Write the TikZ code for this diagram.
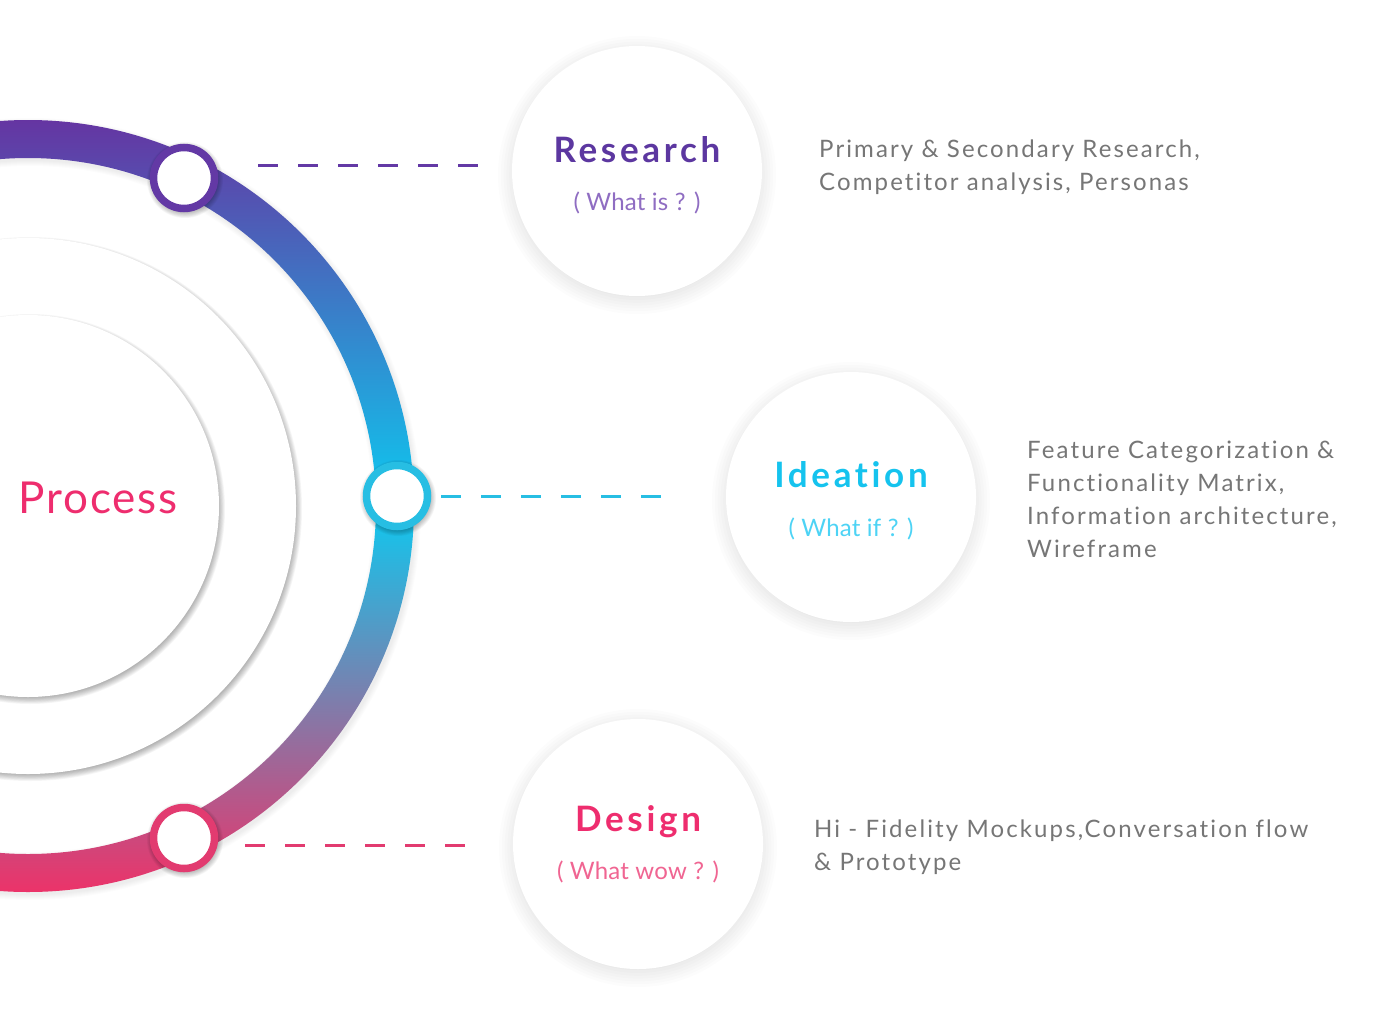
\documentclass[tikz,border=0pt]{standalone}
\usepackage{fontspec}
\setmainfont{Lato}[Ligatures=NoCommon]

\definecolor{ringtop}{HTML}{6535A2}
\definecolor{ringmid}{HTML}{0DC9F0}
\definecolor{ringbot}{HTML}{EC3369}
\definecolor{resdot}{HTML}{6339A5}
\definecolor{ideadot}{HTML}{27BEE3}
\definecolor{desdot}{HTML}{E23B70}
\definecolor{restitle}{HTML}{5C37A0}
\definecolor{ressub}{HTML}{8F6DC2}
\definecolor{ideatitle}{HTML}{15C3EE}
\definecolor{ideasub}{HTML}{4DD3F5}
\definecolor{destitle}{HTML}{EE2D6E}
\definecolor{dessub}{HTML}{F06592}
\definecolor{descgray}{HTML}{767676}

% soft round shadow: centre x, centre y, radius, spread, opacity per layer
\newcommand\softshadow[5]{%
  \foreach \k in {1,...,10}{%
    \fill[black, opacity=#5] (#1,#2) circle[radius={#3-#4+\k*#4/5}];}%
}

\begin{document}
\begin{tikzpicture}[x=1pt,y=-1pt,
  disc/.style={circle, fill=white, inner sep=0pt},
  bigdisc/.style={circle, fill=white, inner sep=0pt, minimum size=250pt},
  dot/.style={circle, fill=white, draw=#1, line width=7.5pt, inner sep=0pt, minimum size=61pt},
  link/.style={draw=#1, line width=3pt, dash pattern=on 20pt off 20pt},
  title/.style={anchor=base, inner sep=0pt, text=#1,
    font=\fontsize{35}{42}\selectfont\bfseries\addfontfeature{LetterSpace=10.5}},
  subtitle/.style={anchor=base, inner sep=0pt, text=#1,
    font=\fontsize{24}{30}\selectfont\addfontfeature{LetterSpace=1}},
  desc/.style={anchor=base west, inner sep=0pt, align=left, text=descgray,
    font=\fontsize{24}{33}\selectfont\addfontfeature{LetterSpace=8.8}}
]
\useasboundingbox (0,0) rectangle (1400,1012);
\fill[white] (0,0) rectangle (1400,1012);
\begin{scope}
\clip (0,0) rectangle (1400,1012);

% concentric discs around the centre
\coordinate (c) at (28,506);
\softshadow{30}{509}{268}{4}{0.035}
\node[disc, minimum size=536pt] (outerdisc) at (c) {};
\softshadow{30}{509}{191}{4}{0.035}
\node[disc, minimum size=382pt] (innerdisc) at (c) {};

% faint shadow under the ring
\foreach \k in {1,...,6}{
  \draw[black, opacity=0.012, line width={(36+2*\k)*1pt}] (30,509) circle[radius=367];}

% gradient ring
\shade[top color=ringtop, bottom color=ringbot, middle color=ringmid, even odd rule]
  (c) circle[radius=386] (c) circle[radius=348];

\node[anchor=base, inner sep=0pt, text=destitle,
  font=\fontsize{44}{50}\selectfont\addfontfeature{LetterSpace=4.5}] (process) at (98,513) {Process};

% stage markers on the ring
\softshadow{185}{180}{34}{4}{0.035}
\softshadow{398}{498}{34}{4}{0.035}
\softshadow{185}{840}{34}{4}{0.035}
\node[dot=resdot]  (rdot) at (184,178) {};
\node[dot=ideadot] (idot) at (397,496) {};
\node[dot=desdot]  (ddot) at (184,838) {};
\end{scope}

% stage discs
\softshadow{637}{175}{125}{14}{0.011}
\softshadow{851}{501}{125}{14}{0.011}
\softshadow{638}{848}{125}{14}{0.011}
\node[bigdisc] (rdisc) at (637,171) {};
\node[bigdisc] (idisc) at (851,497) {};
\node[bigdisc] (ddisc) at (638,844) {};

% dashed connectors
\coordinate (r1) at (258,165); \coordinate (r2) at (478,165);
\coordinate (i1) at (441,496); \coordinate (i2) at (661,496);
\coordinate (d1) at (245,845); \coordinate (d2) at (465,845);
\draw[link=resdot] (r1) -- (r2);
\draw[link=ideadot] (i1) -- (i2);
\draw[link=desdot] (d1) -- (d2);

% titles
\node[title=restitle] (rtitle) at (637,162) {Research};
\node[subtitle=ressub] (rsub) at (637,210) {( What is ? )};
\node[title=ideatitle] (ititle) at (851,487) {Ideation};
\node[subtitle=ideasub] (isub) at (851,536) {( What if ? )};
\node[title=destitle] (dtitle) at (638,831) {Design};
\node[subtitle=dessub] (dsub) at (638,879) {( What wow ? )};

% descriptions (anchored on the baseline of their last line)
\node[desc] (rdesc) at (819,190) {Primary \& Secondary Research,\\Competitor analysis, Personas};
\node[desc] (idesc) at (1027,557) {Feature Categorization \&\\Functionality Matrix,\\Information architecture,\\Wireframe};
\node[desc] (ddesc) at (814,870) {Hi - Fidelity Mockups,Conversation flow\\\& Prototype};
\end{tikzpicture}
\end{document}
